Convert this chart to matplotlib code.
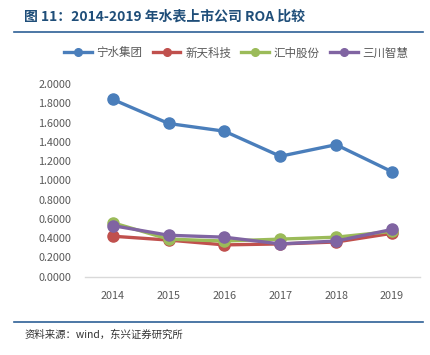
import numpy as np
import matplotlib
matplotlib.use('Agg')
import matplotlib.pyplot as plt
from matplotlib.lines import Line2D

plt.rcParams['font.family'] = ['Noto Sans CJK SC', 'DejaVu Sans']

# data
years = ['2014', '2015', '2016', '2017', '2018', '2019']
ningshui = [1.84, 1.59, 1.51, 1.25, 1.37, 1.09]
xintian = [0.42, 0.38, 0.33, 0.34, 0.36, 0.45]
huizhong = [0.56, 0.39, 0.37, 0.39, 0.41, 0.47]
sanchuan = [0.53, 0.43, 0.41, 0.34, 0.37, 0.49]
names = ['宁水集团', '新天科技', '汇中股份', '三川智慧']
colors = ['#4A7EBB', '#C0504D', '#9BBB59', '#8064A2']
yticks = [0.0, 0.2, 0.4, 0.6, 0.8, 1.0, 1.2, 1.4, 1.6, 1.8, 2.0]

fig = plt.figure(figsize=(4.31, 3.55), dpi=100)
ax = fig.add_axes([0.197, 0.2206, 0.777, 0.5428])

x = np.arange(len(years))
for vals, c, n in zip([ningshui, xintian, huizhong, sanchuan], colors, names):
    ax.plot(x, vals, color=c, lw=2.4, marker='o', ms=8, label=n, solid_capstyle='round')

ax.set_xlim(-0.5, 5.5)
ax.set_ylim(0, 2.0)
ax.set_xticks(x)
ax.set_xticklabels(years)
ax.set_yticks(yticks)
ax.set_yticklabels(['%.4f' % v for v in yticks])
ax.tick_params(length=0, labelsize=7.8, colors='#595959')
ax.tick_params(axis='x', pad=10)
ax.tick_params(axis='y', pad=10)
for s in ['top', 'right', 'left']:
    ax.spines[s].set_visible(False)
ax.spines['bottom'].set_color('#D9D9D9')
ax.spines['bottom'].set_linewidth(1)

# legend
handles = [Line2D([0], [0], color=c, lw=2.4, marker='o', ms=5.5) for c in colors]
fig.legend(handles, names, loc='center', bbox_to_anchor=(0.548, 0.851), ncol=4,
           frameon=False, fontsize=8.3, handlelength=2.4, columnspacing=0.9,
           handletextpad=0.4, labelcolor='#595959')

# title and rules
fig.text(0.056, 0.952, '图 11：2014-2019 年水表上市公司 ROA 比较', fontsize=10,
         fontweight='bold', color='#1F4E79', va='center')
fig.add_artist(Line2D([0.032, 0.982], [0.910, 0.910], color='#2E6096', lw=1.2))
fig.add_artist(Line2D([0.032, 0.982], [0.093, 0.093], color='#2E6096', lw=1.2))
fig.text(0.056, 0.056, '资料来源：wind，东兴证券研究所', fontsize=7.5,
         style='italic', color='#333333', va='center')

fig.savefig('out.png', dpi=100)
